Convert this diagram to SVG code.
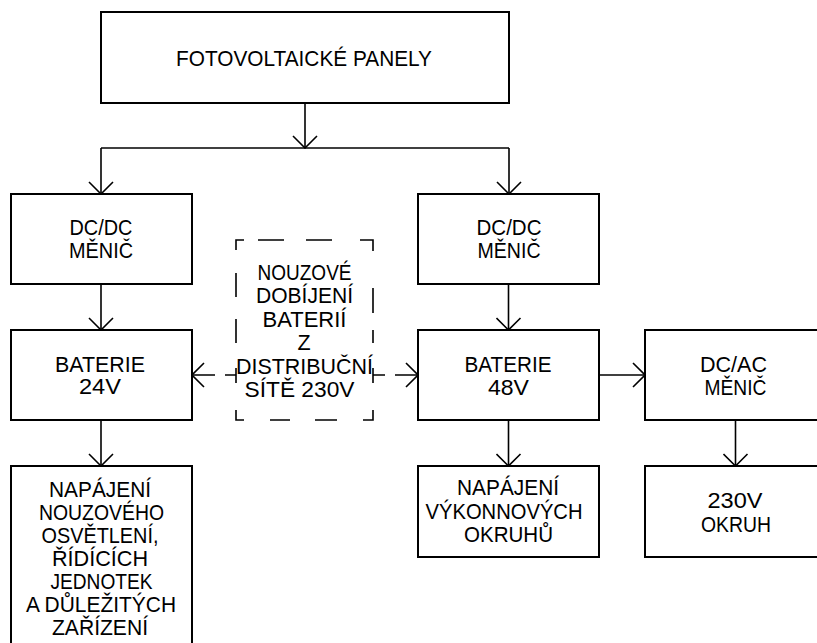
<svg xmlns="http://www.w3.org/2000/svg" width="817" height="643" viewBox="0 0 817 643">
<style>
.box{fill:#fff;stroke:#000;stroke-width:2}
.ln{fill:none;stroke:#000;stroke-width:1.6}
.dash{fill:none;stroke:#000;stroke-width:1.6}
text{font-family:"Liberation Sans",Arial,sans-serif;font-size:21.5px;fill:#000;text-anchor:middle}
</style>
<defs>
<marker id="arr" viewBox="0 0 14 26" refX="13" refY="13" markerWidth="14" markerHeight="26" markerUnits="userSpaceOnUse" orient="auto">
<path d="M1,1 L13,13 L1,25" fill="none" stroke="#000" stroke-width="1.6"/>
</marker>
</defs>
<rect width="817" height="643" fill="#fff"/>
<g id="connectors">
<path class="ln" d="M305,103 V148" marker-end="url(#arr)"/>
<path class="ln" d="M101,148 H509"/>
<path class="ln" d="M101,148 V194" marker-end="url(#arr)"/>
<path class="ln" d="M509,148 V194" marker-end="url(#arr)"/>
<path class="ln" d="M101,284 V330" marker-end="url(#arr)"/>
<path class="ln" d="M508.5,284 V330" marker-end="url(#arr)"/>
<path class="ln" d="M101,420 V466" marker-end="url(#arr)"/>
<path class="ln" d="M508.5,420 V466" marker-end="url(#arr)"/>
<path class="ln" d="M735.5,420 V466" marker-end="url(#arr)"/>
<path class="ln" d="M599,375 H645" marker-end="url(#arr)"/>
<path class="ln" d="M236,375 H225 M215,375 H192" marker-end="url(#arr)"/>
<path class="ln" d="M373,375 H385 M395,375 H418" marker-end="url(#arr)"/>
</g>
<g id="pv">
<rect class="box" x="101" y="12" width="408" height="91"/>
<text x="304" y="66" textLength="256" lengthAdjust="spacingAndGlyphs">FOTOVOLTAICKÉ PANELY</text>
</g>
<g id="dcdc-left">
<rect class="box" x="11" y="194" width="181" height="90"/>
<text x="101" y="235" textLength="63" lengthAdjust="spacingAndGlyphs">DC/DC</text>
<text x="101" y="258" textLength="64" lengthAdjust="spacingAndGlyphs">MĚNIČ</text>
</g>
<g id="dcdc-right">
<rect class="box" x="418" y="194" width="181" height="90"/>
<text x="509" y="235" textLength="65" lengthAdjust="spacingAndGlyphs">DC/DC</text>
<text x="509" y="258" textLength="63" lengthAdjust="spacingAndGlyphs">MĚNIČ</text>
</g>
<g id="bat24">
<rect class="box" x="11" y="330" width="181" height="90"/>
<text x="100" y="372" textLength="90" lengthAdjust="spacingAndGlyphs">BATERIE</text>
<text x="100" y="394" textLength="42" lengthAdjust="spacingAndGlyphs">24V</text>
</g>
<g id="bat48">
<rect class="box" x="418" y="330" width="181" height="90"/>
<text x="508" y="372" textLength="87" lengthAdjust="spacingAndGlyphs">BATERIE</text>
<text x="508.5" y="395" textLength="41" lengthAdjust="spacingAndGlyphs">48V</text>
</g>
<g id="dcac">
<rect class="box" x="645" y="330" width="181" height="90"/>
<text x="733.5" y="372" textLength="67" lengthAdjust="spacingAndGlyphs">DC/AC</text>
<text x="735.5" y="395" textLength="62" lengthAdjust="spacingAndGlyphs">MĚNIČ</text>
</g>
<g id="emergency">
<path class="dash" d="M236,250 V240 H244 M258,240 H284 M306,240 H332 M360,240 H373 V251 M373,288 V313 M373,330 V343 M373,368 V383 M373,410 V420 H363 M337,420 H315 M290,420 H270 M244,420 H236 V410 M236,383 V368 M236,343 V319 M236,297 V273"/>
<text x="304.5" y="280" textLength="94" lengthAdjust="spacingAndGlyphs">NOUZOVÉ</text>
<text x="304.5" y="303" textLength="97" lengthAdjust="spacingAndGlyphs">DOBÍJENÍ</text>
<text x="304.5" y="327" textLength="84" lengthAdjust="spacingAndGlyphs">BATERIÍ</text>
<text x="304" y="350">Z</text>
<text x="304.5" y="374" textLength="137" lengthAdjust="spacingAndGlyphs">DISTRIBUČNÍ</text>
<text x="299.5" y="397" textLength="110" lengthAdjust="spacingAndGlyphs">SÍTĚ 230V</text>
</g>
<g id="load24">
<rect class="box" x="11" y="466" width="181" height="200"/>
<text x="100" y="497" textLength="102" lengthAdjust="spacingAndGlyphs">NAPÁJENÍ</text>
<text x="101.5" y="520" textLength="125" lengthAdjust="spacingAndGlyphs">NOUZOVÉHO</text>
<text x="100" y="543" textLength="117" lengthAdjust="spacingAndGlyphs">OSVĚTLENÍ,</text>
<text x="100" y="566" textLength="96" lengthAdjust="spacingAndGlyphs">ŘÍDÍCÍCH</text>
<text x="101.5" y="589" textLength="102" lengthAdjust="spacingAndGlyphs">JEDNOTEK</text>
<text x="101" y="612" textLength="150" lengthAdjust="spacingAndGlyphs">A DŮLEŽITÝCH</text>
<text x="100" y="635" textLength="96" lengthAdjust="spacingAndGlyphs">ZAŘÍZENÍ</text>
</g>
<g id="load48">
<rect class="box" x="418" y="466" width="181" height="91"/>
<text x="508" y="495" textLength="102" lengthAdjust="spacingAndGlyphs">NAPÁJENÍ</text>
<text x="504" y="519" textLength="157" lengthAdjust="spacingAndGlyphs">VÝKONNOVÝCH</text>
<text x="508.5" y="542" textLength="89" lengthAdjust="spacingAndGlyphs">OKRUHŮ</text>
</g>
<g id="out230">
<rect class="box" x="645" y="466" width="181" height="91"/>
<text x="735" y="508" textLength="55" lengthAdjust="spacingAndGlyphs">230V</text>
<text x="736" y="531.5" textLength="70" lengthAdjust="spacingAndGlyphs">OKRUH</text>
</g>
</svg>
